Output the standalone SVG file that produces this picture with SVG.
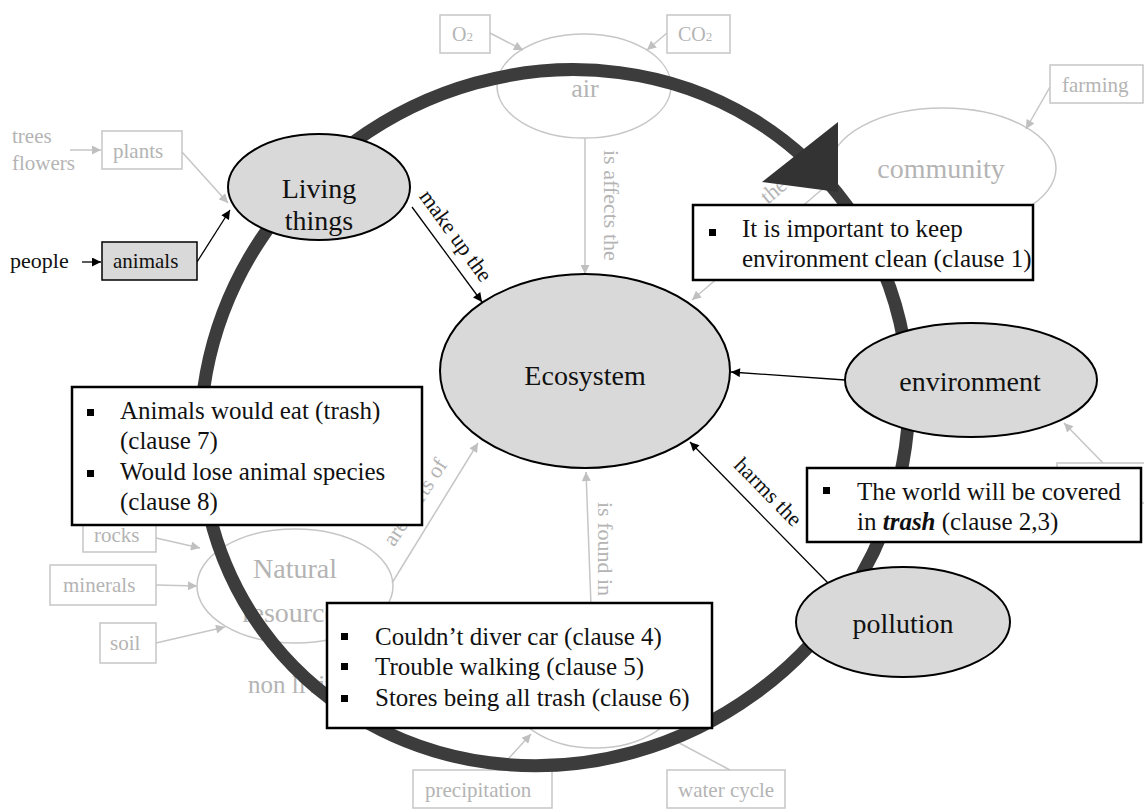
<svg xmlns="http://www.w3.org/2000/svg" width="1144" height="810" viewBox="0 0 1144 810" font-family="'Liberation Serif', 'DejaVu Serif', serif">
<style>
.gs{fill:#fff;stroke:#c6c6c6;stroke-width:1.5}
.gt{font-family:'Liberation Serif', 'DejaVu Serif', serif;fill:#b4b4b4}
.bn{fill:#d9d9d9;stroke:#000;stroke-width:2}
.t{font-family:'Liberation Serif', 'DejaVu Serif', serif;fill:#111}
.box{fill:#fff;stroke:#000;stroke-width:2.5}
.cb{stroke:#000;stroke-width:1.3;fill:none;marker-end:url(#ab)}
.cg{stroke:#c6c6c6;stroke-width:1.5;fill:none;marker-end:url(#ag)}
.cgn{stroke:#c6c6c6;stroke-width:1.5;fill:none}
</style>
<defs>
<marker id="ab" viewBox="0 0 10 10" refX="10" refY="5" markerWidth="10" markerHeight="9" markerUnits="userSpaceOnUse" orient="auto"><path d="M0,0 L10,5 L0,10 z" fill="#000"/></marker>
<marker id="ag" viewBox="0 0 10 10" refX="10" refY="5" markerWidth="10" markerHeight="9" markerUnits="userSpaceOnUse" orient="auto"><path d="M0,0 L10,5 L0,10 z" fill="#c0c0c0"/></marker>
</defs>
<rect width="1144" height="810" fill="#fff"/>

<!-- gray background nodes -->
<g id="n-o2"><rect class="gs" x="440" y="15" width="50" height="38"/><text class="gt" x="452" y="41" font-size="20">O<tspan font-size="13">2</tspan></text></g>
<g id="n-co2"><rect class="gs" x="667" y="15" width="63" height="38"/><text class="gt" x="678" y="41" font-size="20">CO<tspan font-size="13">2</tspan></text></g>
<g id="n-air"><ellipse class="gs" cx="584" cy="86" rx="87" ry="52"/><text class="gt" x="585" y="97" font-size="26" text-anchor="middle">air</text></g>
<g id="n-community"><ellipse class="gs" cx="943" cy="168" rx="113" ry="60"/><text class="gt" x="941" y="178" font-size="28" text-anchor="middle">community</text></g>
<g id="n-farming"><rect class="gs" x="1050" y="65" width="93" height="38"/><text class="gt" x="1062" y="92" font-size="21">farming</text></g>
<g id="n-trees"><text class="gt" x="12" y="143" font-size="21">trees</text><text class="gt" x="12" y="170" font-size="21">flowers</text></g>
<g id="n-plants"><rect class="gs" x="102" y="131" width="80" height="38"/><text class="gt" x="113" y="158" font-size="21">plants</text></g>
<g id="n-natural"><ellipse class="gs" cx="295" cy="586" rx="98" ry="57"/><text class="gt" x="295" y="578" font-size="28" text-anchor="middle">Natural</text><text class="gt" x="295" y="622" font-size="28" text-anchor="middle">resources</text></g>
<g id="n-rocks"><rect class="gs" x="83" y="516" width="73" height="36"/><text class="gt" x="94" y="542" font-size="21">rocks</text></g>
<g id="n-minerals"><rect class="gs" x="50" y="565" width="106" height="40"/><text class="gt" x="63" y="592" font-size="21">minerals</text></g>
<g id="n-soil"><rect class="gs" x="100" y="623" width="56" height="40"/><text class="gt" x="110" y="650" font-size="21">soil</text></g>
<g id="n-water"><ellipse class="gs" cx="595" cy="690" rx="87" ry="58"/></g>
<g id="n-precip"><rect class="gs" x="413" y="770" width="139" height="38"/><text class="gt" x="425" y="797" font-size="21">precipitation</text></g>
<g id="n-watercycle"><rect class="gs" x="667" y="770" width="118" height="38"/><text class="gt" x="678" y="797" font-size="21">water cycle</text></g>
<g id="n-hidden"><rect class="gs" x="1057" y="463" width="100" height="40"/></g>

<!-- connectors -->
<g id="connectors">
<line class="cg" x1="490" y1="33" x2="523" y2="50"/>
<line class="cg" x1="667" y1="33" x2="647" y2="50"/>
<line class="cg" x1="585" y1="138" x2="585" y2="274"/>
<text class="gt" font-size="22" transform="translate(604,150) rotate(90)">is affects the</text>
<line class="cg" x1="1050" y1="87" x2="1026" y2="129"/>
<line class="cg" x1="826" y1="186" x2="692" y2="300"/>
<text class="gt" font-size="22" text-anchor="middle" transform="translate(778,196) rotate(-40)">the</text>
<line class="cg" x1="70" y1="150" x2="101" y2="150"/>
<line class="cg" x1="182" y1="152" x2="228" y2="203"/>
<line class="cb" x1="82" y1="262" x2="101" y2="262"/>
<line class="cb" x1="197" y1="262" x2="230" y2="210"/>
<line class="cb" x1="412" y1="207" x2="482" y2="302"/>
<text class="t" font-size="22" text-anchor="middle" transform="translate(450,240) rotate(54)">make up the</text>
<line class="cb" x1="845" y1="380" x2="731" y2="372"/>
<line class="cb" x1="828" y1="583" x2="690" y2="442"/>
<text class="t" font-size="22" text-anchor="middle" transform="translate(763,497) rotate(45.6)">harms the</text>
<line class="cg" x1="392" y1="583" x2="478" y2="443"/>
<text class="gt" font-size="22" text-anchor="middle" transform="translate(421,506) rotate(-57)">are parts of</text>
<line class="cg" x1="592" y1="632" x2="586" y2="472"/>
<text class="gt" font-size="22" transform="translate(598,502) rotate(90)">is found in</text>
<line class="cg" x1="156" y1="538" x2="200" y2="548"/>
<line class="cg" x1="156" y1="585" x2="197" y2="586"/>
<line class="cg" x1="156" y1="643" x2="225" y2="627"/>
<line class="cg" x1="498" y1="770" x2="531" y2="734"/>
<line class="cgn" x1="730" y1="770" x2="668" y2="737"/>
<line class="cg" x1="1103" y1="463" x2="1064" y2="423"/>
<text class="gt" x="248" y="693" font-size="25">non living</text>
</g>

<!-- cycle band -->
<g id="cycle">
<ellipse cx="0" cy="0" rx="361" ry="341" transform="translate(554.6,417.7) rotate(-36)" fill="none" stroke="#3c3c3c" stroke-width="13"/>
<polygon points="838,122 762,182 838,192" fill="#333"/>
</g>

<!-- main nodes -->
<g id="n-living"><ellipse class="bn" cx="319" cy="187" rx="91" ry="53"/><text class="t" x="319" y="198" font-size="28" text-anchor="middle">Living</text><text class="t" x="319" y="230" font-size="28" text-anchor="middle">things</text></g>
<g id="n-people"><text class="t" x="10" y="268" font-size="22">people</text></g>
<g id="n-animals"><rect x="102" y="242" width="95" height="38" fill="#d9d9d9" stroke="#000" stroke-width="1.5"/><text class="t" x="113" y="268" font-size="21">animals</text></g>
<g id="n-ecosystem"><ellipse class="bn" cx="585" cy="371" rx="145" ry="97"/><text class="t" x="585" y="385" font-size="28" text-anchor="middle">Ecosystem</text></g>
<g id="n-environment"><ellipse class="bn" cx="971" cy="380" rx="126" ry="57"/><text class="t" x="970" y="391" font-size="28" text-anchor="middle">environment</text></g>
<g id="n-pollution"><ellipse class="bn" cx="903" cy="622" rx="107" ry="55"/><text class="t" x="903" y="633" font-size="28" text-anchor="middle">pollution</text></g>

<!-- annotation boxes -->
<g id="box-1"><rect class="box" x="693" y="205" width="340" height="75"/><rect x="709" y="229" width="7" height="7"/><text class="t" x="742" y="237" font-size="25">It is important to keep</text><text class="t" x="742" y="267" font-size="25">environment clean (clause 1)</text></g>
<g id="box-2"><rect class="box" x="72" y="387" width="350" height="138"/><rect x="87" y="409" width="7" height="7"/><rect x="87" y="470" width="7" height="7"/><text class="t" x="120" y="419" font-size="25">Animals would eat (trash)</text><text class="t" x="120" y="449" font-size="25">(clause 7)</text><text class="t" x="120" y="480" font-size="25">Would lose animal species</text><text class="t" x="120" y="510" font-size="25">(clause 8)</text></g>
<g id="box-3"><rect class="box" x="327" y="603" width="385" height="125"/><rect x="341" y="633" width="7" height="7"/><rect x="341" y="663" width="7" height="7"/><rect x="341" y="695" width="7" height="7"/><text class="t" x="375" y="645" font-size="25">Couldn’t diver car (clause 4)</text><text class="t" x="375" y="675" font-size="25">Trouble walking (clause 5)</text><text class="t" x="375" y="706" font-size="25">Stores being all trash (clause 6)</text></g>
<g id="box-4"><rect class="box" x="807" y="468" width="334" height="74"/><rect x="823" y="487" width="7" height="7"/><text class="t" x="857" y="500" font-size="25">The world will be covered</text><text class="t" x="857" y="530" font-size="25">in <tspan font-weight="bold" font-style="italic">trash</tspan> (clause 2,3)</text></g>
</svg>
